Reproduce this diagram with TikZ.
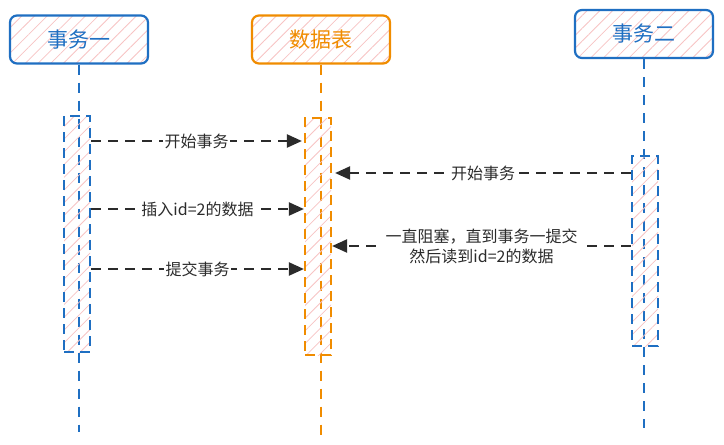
\documentclass[tikz,border=0pt]{standalone}
\usepackage{fontspec}
\setmainfont{Noto Sans CJK SC}
\usetikzlibrary{arrows.meta, positioning, calc, patterns.meta}
\definecolor{txblue}{HTML}{1F6FC2}
\definecolor{taborange}{HTML}{F08C00}
\definecolor{msggray}{HTML}{2B2B2B}
\definecolor{hatchpink}{HTML}{F8C4C4}

\begin{document}
\begin{tikzpicture}[
  x=1pt, y=-1pt,
  hatch/.style={pattern={Lines[angle=45, distance=9pt, line width=0.8pt]},
    pattern color=hatchpink},
  head/.style={draw, hatch, rounded corners=7pt, line width=2.2pt,
    minimum width=138pt, minimum height=48pt,
    font=\fontsize{21}{24}\selectfont},
  actbar/.style={draw, hatch, line width=2.2pt, minimum width=26pt,
    dash pattern=on 10pt off 6pt},
  life/.style={line width=2.2pt, dash pattern=on 10pt off 8pt},
  msg/.style={-{Triangle[length=15pt, width=13pt]}, msggray, line width=2.2pt,
    dash pattern=on 10pt off 7pt},
  lbl/.style={fill=white, text=msggray, font=\fontsize{16}{20}\selectfont,
    inner sep=1.5pt, align=center},
]
  \fill[white] (0,0) rectangle (724,445);

  % headers
  \node[head, draw=txblue, text=txblue]         (tx1) at (79,39.5) {事务一};
  \node[head, draw=taborange, text=taborange]   (tbl) at (321,39.5) {数据表};
  \node[head, draw=txblue, text=txblue]         (tx2) at (644,34) {事务二};

  % lifelines
  \coordinate (end1) at (78,432);
  \coordinate (end2) at (319,435);
  \coordinate (end3) at (645,428);
  \draw[life, txblue]    (tx1.south) -- (tx1.south |- end1);
  \draw[life, taborange] (tbl.south) -- (tbl.south |- end2);
  \draw[life, txblue]    (tx2.south) -- (tx2.south |- end3);

  % activation bars
  \node[actbar, draw=txblue, minimum height=236pt]    (bar1) at (77,234) {};
  \node[actbar, draw=taborange, minimum height=237pt] (bar2) at (318,236.5) {};
  \node[actbar, draw=txblue, minimum height=190pt]    (bar3) at (645,251) {};

  % messages
  \coordinate (r1) at (0,141);
  \coordinate (r2) at (0,173);
  \coordinate (r3) at (0,209);
  \coordinate (r4) at (0,246);
  \coordinate (r5) at (0,269);
  \draw[msg] (bar1.east |- r1) -- ([xshift=-2pt]bar2.west |- r1)
    node[lbl, midway] (m1) {开始事务};
  \draw[msg] (bar3.west |- r2) -- ([xshift=3pt]bar2.east |- r2)
    node[lbl, midway] (m2) {开始事务};
  \draw[msg] (bar1.east |- r3) -- (bar2.west |- r3)
    node[lbl, midway] (m3) {插入id=2的数据};
  \draw[msg] (bar3.west |- r4) -- (bar2.east |- r4)
    node[lbl, midway, inner xsep=8pt] (m4) {一直阻塞，直到事务一提交\\然后读到id=2的数据};
  \draw[msg] (bar1.east |- r5) -- (bar2.west |- r5)
    node[lbl, midway] (m5) {提交事务};
\end{tikzpicture}
\end{document}
